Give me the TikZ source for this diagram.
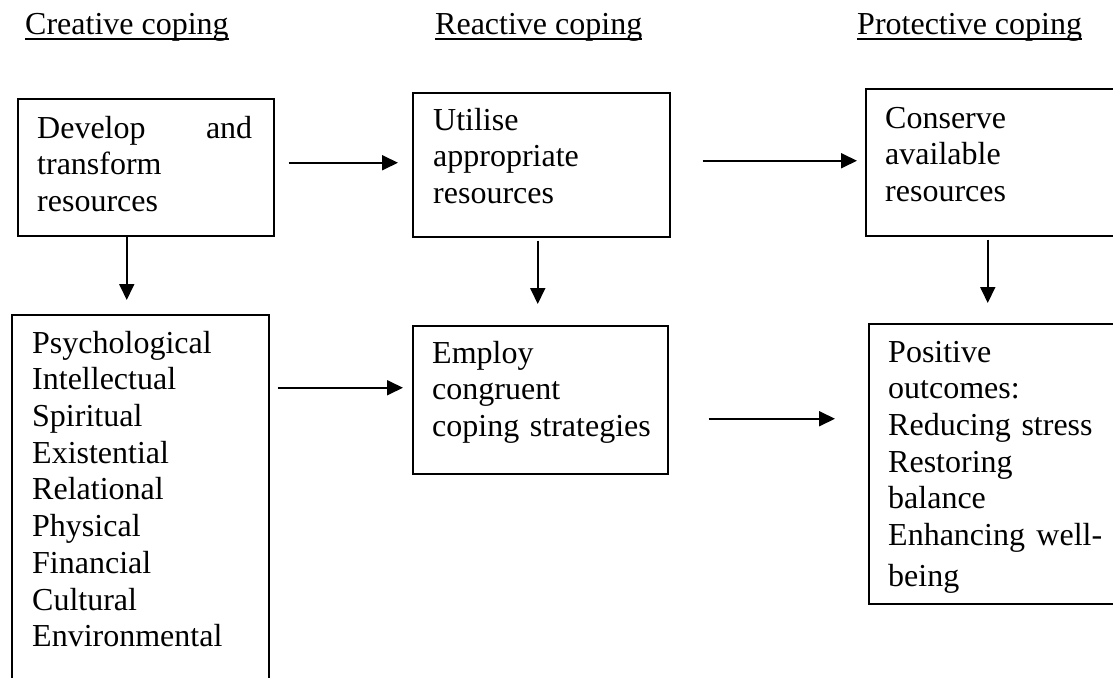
\documentclass[tikz,border=0pt]{standalone}
\usepackage{fontspec}
\setmainfont{Liberation Serif}
\usetikzlibrary{arrows.meta}
\begin{document}
\begin{tikzpicture}[x=1pt,y=-1pt,
 box/.style={draw, line width=1.5pt, anchor=north west, inner sep=0pt},
 txt/.style={anchor=north west, inner sep=0pt, align=left, font=\fontsize{32pt}{36.7pt}\selectfont},
 hdr/.style={anchor=base west, inner sep=0pt, font=\fontsize{32pt}{36.7pt}\selectfont},
 arr/.style={line width=1.8pt, -{Triangle[length=16pt,width=15pt]}},
 uline/.style={line width=1.8pt}]
\useasboundingbox (0,0) rectangle (1113,677);
\clip (0,0) rectangle (1113,677);
\fill[white] (0,0) rectangle (1113,677);

% headers
\node[hdr] (h1) at (25,35) {Creative coping};
\node[hdr] (h2) at (435,35) {Reactive coping};
\node[hdr] (h3) at (857,35) {Protective coping};
\draw[uline] ([yshift=-4pt]h1.base west) -- ([yshift=-4pt]h1.base east);
\draw[uline] ([yshift=-4pt]h2.base west) -- ([yshift=-4pt]h2.base east);
\draw[uline] ([yshift=-4pt]h3.base west) -- ([yshift=-4pt]h3.base east);

% boxes
\node[box, minimum width=256pt, minimum height=137pt] (b1) at (17,98) {};
\node[box, minimum width=257pt, minimum height=144pt] (b2) at (412,92) {};
\node[box, minimum width=270pt, minimum height=147pt] (b3) at (865,88) {};
\node[box, minimum width=257pt, minimum height=400pt] (b4) at (11,314) {};
\node[box, minimum width=255pt, minimum height=148pt] (b5) at (412,325) {};
\node[box, minimum width=270pt, minimum height=280pt] (b6) at (868,323) {};

% texts
\node[txt, text width=215pt] (t1) at (37,112.3) {\strut Develop\hfill and\\ transform\\ resources};
\node[txt, text width=220pt] (t2) at (433,104.3) {\strut Utilise\\ appropriate\\ resources};
\node[txt, text width=220pt] (t3) at (885,102.3) {\strut Conserve\\ available\\ resources};
\node[txt, text width=220pt] (t4) at (32,327.3) {\strut Psychological\\ Intellectual\\ Spiritual\\ Existential\\ Relational\\ Physical\\ Financial\\ Cultural\\ Environmental};
\node[txt, text width=225pt] (t5) at (432,337.3) {\strut Employ\\ congruent\\ coping strategies};
\node[txt, text width=214pt] (t6) at (888,336.3) {\strut Positive\\ outcomes:\\ Reducing stress\\ Restoring\\ balance\\ Enhancing\hfill well-\\[4pt] being};

% connectors
\coordinate (p1) at ([yshift=4.5pt]b1.east);
\draw[arr, shorten <=14pt, shorten >=14pt] (p1) -- (p1 -| b2.west);
\coordinate (p2) at ([yshift=4pt]b2.east);
\draw[arr, shorten <=32pt, shorten >=8pt] (p2) -- (p2 -| b3.west);
\coordinate (p3) at ([xshift=-19pt]b1.south);
\draw[arr, shorten >=14pt] (p3) -- (p3 |- b4.north);
\coordinate (p4) at ([xshift=-3.5pt]b2.south);
\draw[arr, shorten <=3pt, shorten >=21pt] (p4) -- (p4 |- b5.north);
\coordinate (p5) at ([xshift=-13pt]b3.south);
\draw[arr, shorten <=3pt, shorten >=20pt] (p5) -- (p5 |- b6.north);
\coordinate (p6) at ([yshift=12pt]b5.west);
\draw[arr, shorten <=8pt, shorten >=9pt] (p6 -| b4.east) -- (p6);
\coordinate (p7) at ([yshift=-19pt]b5.east);
\draw[arr, shorten <=40pt, shorten >=33pt] (p7) -- (p7 -| b6.west);
\end{tikzpicture}
\end{document}
